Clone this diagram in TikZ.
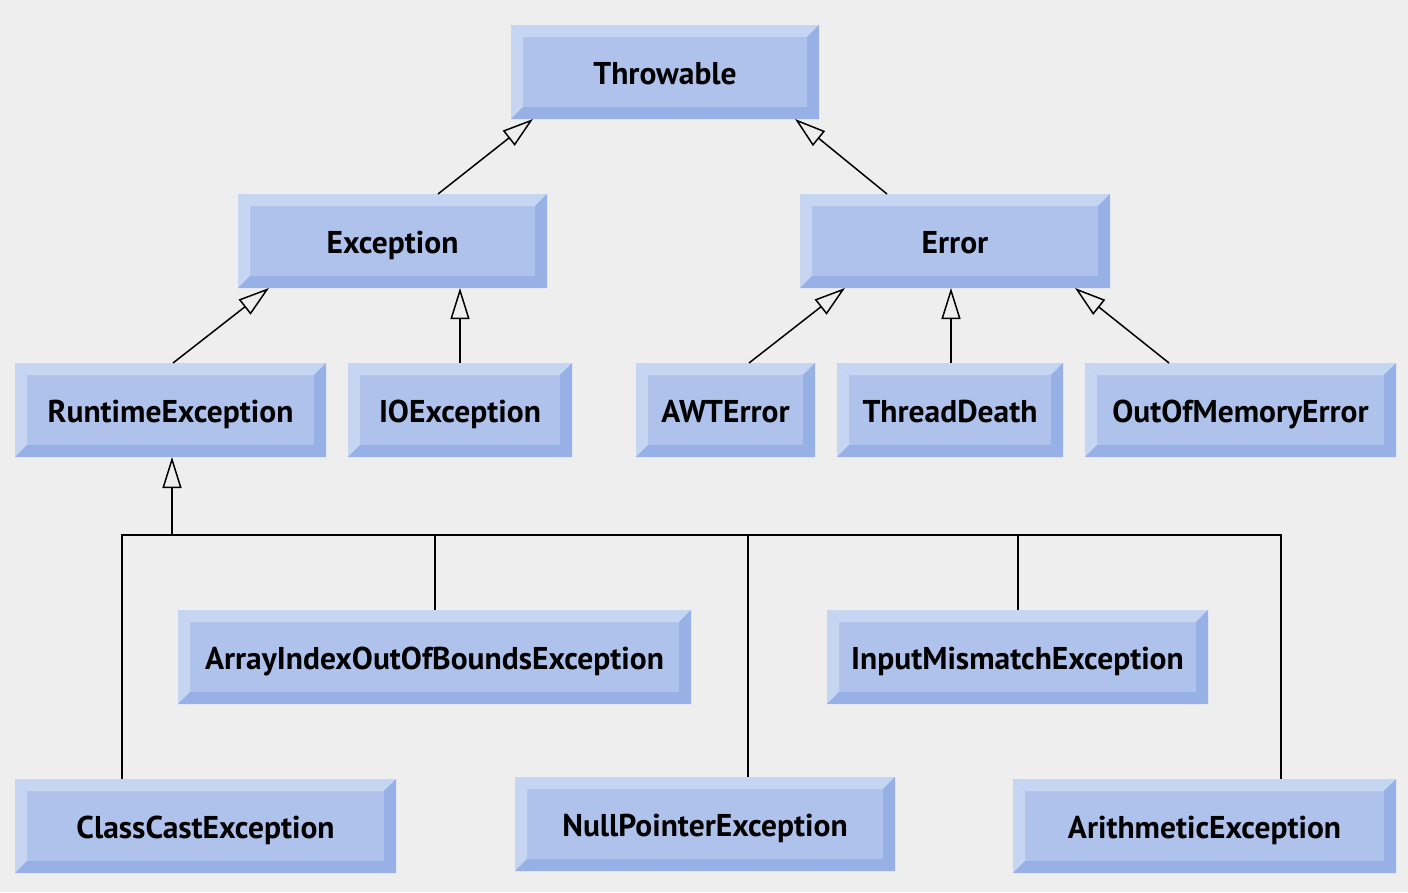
\documentclass[tikz,border=0pt]{standalone}
\usepackage{fontspec}
\setmainfont{PT Sans}
\usetikzlibrary{arrows.meta}
\definecolor{bgc}{RGB}{238,238,238}
\definecolor{face}{RGB}{174,194,236}
\definecolor{lite}{RGB}{197,213,242}
\definecolor{dark}{RGB}{151,177,230}
\tikzset{
  bx/.style={rectangle, inner sep=0pt, outer sep=0pt, fill=face,
    minimum height=94pt, text height=30pt, text depth=6pt,
    font=\fontsize{31.5}{36}\selectfont\bfseries,
    path picture={
      \fill[lite] (path picture bounding box.north west) -- (path picture bounding box.north east)
        -- ([shift={(-12pt,-12pt)}]path picture bounding box.north east)
        -- ([shift={(12pt,-12pt)}]path picture bounding box.north west) -- cycle;
      \fill[lite] (path picture bounding box.north west)
        -- ([shift={(12pt,-12pt)}]path picture bounding box.north west)
        -- ([shift={(12pt,12pt)}]path picture bounding box.south west)
        -- (path picture bounding box.south west) -- cycle;
      \fill[dark] (path picture bounding box.north east) -- (path picture bounding box.south east)
        -- ([shift={(-12pt,12pt)}]path picture bounding box.south east)
        -- ([shift={(-12pt,-12pt)}]path picture bounding box.north east) -- cycle;
      \fill[dark] (path picture bounding box.south west) -- (path picture bounding box.south east)
        -- ([shift={(-12pt,12pt)}]path picture bounding box.south east)
        -- ([shift={(12pt,12pt)}]path picture bounding box.south west) -- cycle;
    }},
  inh/.style={line width=1.5pt, -{Triangle[open, length=31pt, width=19pt, line width=1.5pt]}},
  lnk/.style={line width=1.5pt}
}
\begin{document}
\begin{tikzpicture}[x=1pt,y=-1pt]
\fill[bgc] (0,0) rectangle (1408,892);
\useasboundingbox (0,0) rectangle (1408,892);
% nodes
\node[bx, minimum width=308pt] (thr) at (665,72) {Throwable};
\node[bx, minimum width=309pt] (exc) at (392.5,241) {Exception};
\node[bx, minimum width=310pt] (err) at (955,241) {Error};
\node[bx, minimum width=311pt] (rte) at (170.5,410) {RuntimeException};
\node[bx, minimum width=224pt] (ioe) at (460,410) {IOException};
\node[bx, minimum width=179pt] (awt) at (725.5,410) {AWTError};
\node[bx, minimum width=226pt] (thd) at (950,410) {ThreadDeath};
\node[bx, minimum width=311pt] (oom) at (1240.5,410) {OutOfMemoryError};
\node[bx, minimum width=513pt] (aio) at (434.5,657) {ArrayIndexOutOfBoundsException};
\node[bx, minimum width=381pt] (ime) at (1017.5,657) {InputMismatchException};
\node[bx, minimum width=381pt] (cce) at (205.5,826) {ClassCastException};
\node[bx, minimum width=380pt] (npe) at (705,824) {NullPointerException};
\node[bx, minimum width=383pt] (ari) at (1204.5,826) {ArithmeticException};
% inheritance arrows
\draw[inh] ([xshift=45.5pt]exc.north) -- ([xshift=22pt]thr.south west);
\draw[inh] ([xshift=-68pt]err.north) -- ([xshift=-24pt]thr.south east);
\draw[inh] ([xshift=2.5pt]rte.north) -- ([xshift=31pt]exc.south west);
\draw[inh] (ioe.north) -- (ioe.north |- exc.south);
\draw[inh] ([xshift=23.5pt]awt.north) -- ([xshift=45pt]err.south west);
\draw[inh] ([xshift=1pt]thd.north) -- ([xshift=1pt]thd.north |- err.south);
\draw[inh] ([xshift=-71.5pt]oom.north) -- ([xshift=-35pt]err.south east);
% bus
\coordinate (bus) at (172,535);
\draw[inh] (bus) -- ([xshift=1.5pt]rte.south);
\draw[lnk] ([xshift=-83.5pt]cce.north) |- ([xshift=76.5pt]ari.north |- bus) -- ([xshift=76.5pt]ari.north);
\draw[lnk] ([xshift=0.5pt]aio.north) -- ([xshift=0.5pt]aio.north |- bus);
\draw[lnk] ([xshift=43pt]npe.north) -- ([xshift=43pt]npe.north |- bus);
\draw[lnk] ([xshift=0.5pt]ime.north) -- ([xshift=0.5pt]ime.north |- bus);
\end{tikzpicture}
\end{document}
